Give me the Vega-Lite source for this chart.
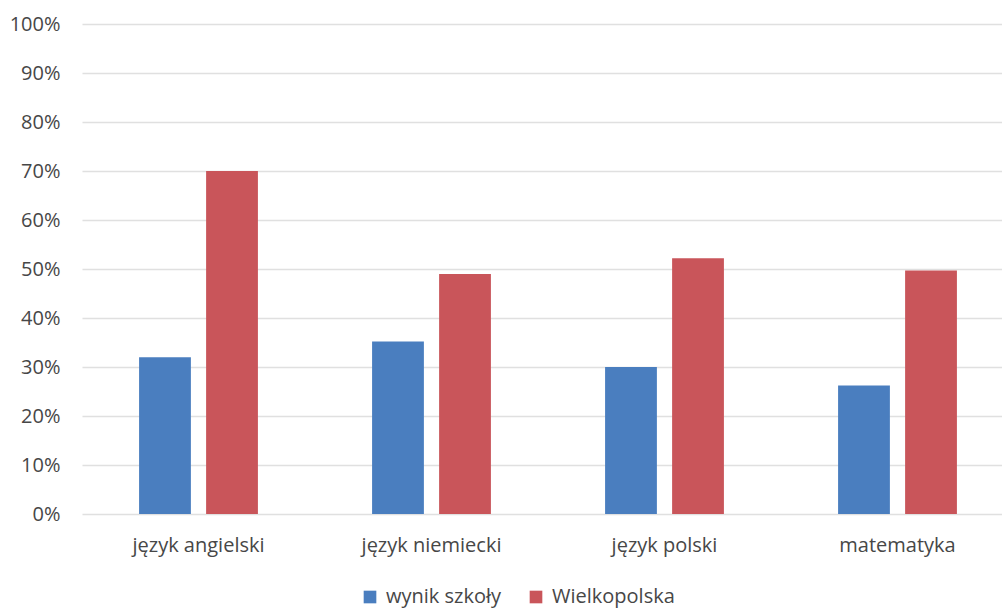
{
  "$schema": "https://vega.github.io/schema/vega-lite/v6.json",
  "autosize": "none",
  "width": 932,
  "height": 490,
  "padding": {"left": 82, "top": 24, "right": 0, "bottom": 95},
  "background": "white",
  "data": {
    "values": [
      {"przedmiot": "język angielski", "seria": "wynik szkoły", "wartosc": 0.32},
      {"przedmiot": "język angielski", "seria": "Wielkopolska", "wartosc": 0.70},
      {"przedmiot": "język niemiecki", "seria": "wynik szkoły", "wartosc": 0.352},
      {"przedmiot": "język niemiecki", "seria": "Wielkopolska", "wartosc": 0.49},
      {"przedmiot": "język polski", "seria": "wynik szkoły", "wartosc": 0.30},
      {"przedmiot": "język polski", "seria": "Wielkopolska", "wartosc": 0.522},
      {"przedmiot": "matematyka", "seria": "wynik szkoły", "wartosc": 0.262},
      {"przedmiot": "matematyka", "seria": "Wielkopolska", "wartosc": 0.497}
    ]
  },
  "config": {
    "view": {"stroke": null},
    "font": "Open Sans"
  },
  "mark": {"type": "bar"},
  "encoding": {
    "x": {
      "field": "przedmiot",
      "type": "nominal",
      "sort": null,
      "scale": {"paddingInner": 0.49, "paddingOuter": 0.245},
      "axis": {
        "title": null,
        "labelAngle": 0,
        "ticks": false,
        "domain": false,
        "labelFontSize": 20,
        "labelColor": "#474747",
        "labelPadding": 21,
        "labelFont": "Open Sans"
      }
    },
    "xOffset": {
      "field": "seria",
      "type": "nominal",
      "sort": ["wynik szkoły", "Wielkopolska"],
      "scale": {"paddingInner": 0.227, "paddingOuter": 0}
    },
    "y": {
      "field": "wartosc",
      "type": "quantitative",
      "scale": {"domain": [0, 1], "nice": false},
      "axis": {
        "title": null,
        "format": ".0%",
        "values": [0, 0.1, 0.2, 0.3, 0.4, 0.5, 0.6, 0.7, 0.8, 0.9, 1],
        "ticks": false,
        "domain": false,
        "gridColor": "#e0e0e0",
        "gridWidth": 1.5,
        "labelFontSize": 20,
        "labelColor": "#474747",
        "labelPadding": 22,
        "labelFont": "Open Sans"
      }
    },
    "color": {
      "field": "seria",
      "type": "nominal",
      "sort": ["wynik szkoły", "Wielkopolska"],
      "scale": {"domain": ["wynik szkoły", "Wielkopolska"], "range": ["#4a7ebf", "#c9555a"]},
      "legend": {
        "title": null,
        "orient": "none",
        "direction": "horizontal",
        "legendX": 278,
        "legendY": 563,
        "symbolType": "square",
        "symbolSize": 160,
        "symbolStrokeWidth": 0,
        "labelFontSize": 20,
        "labelColor": "#474747",
        "labelFont": "Open Sans",
        "columnPadding": 24,
        "labelOffset": 6
      }
    }
  }
}
